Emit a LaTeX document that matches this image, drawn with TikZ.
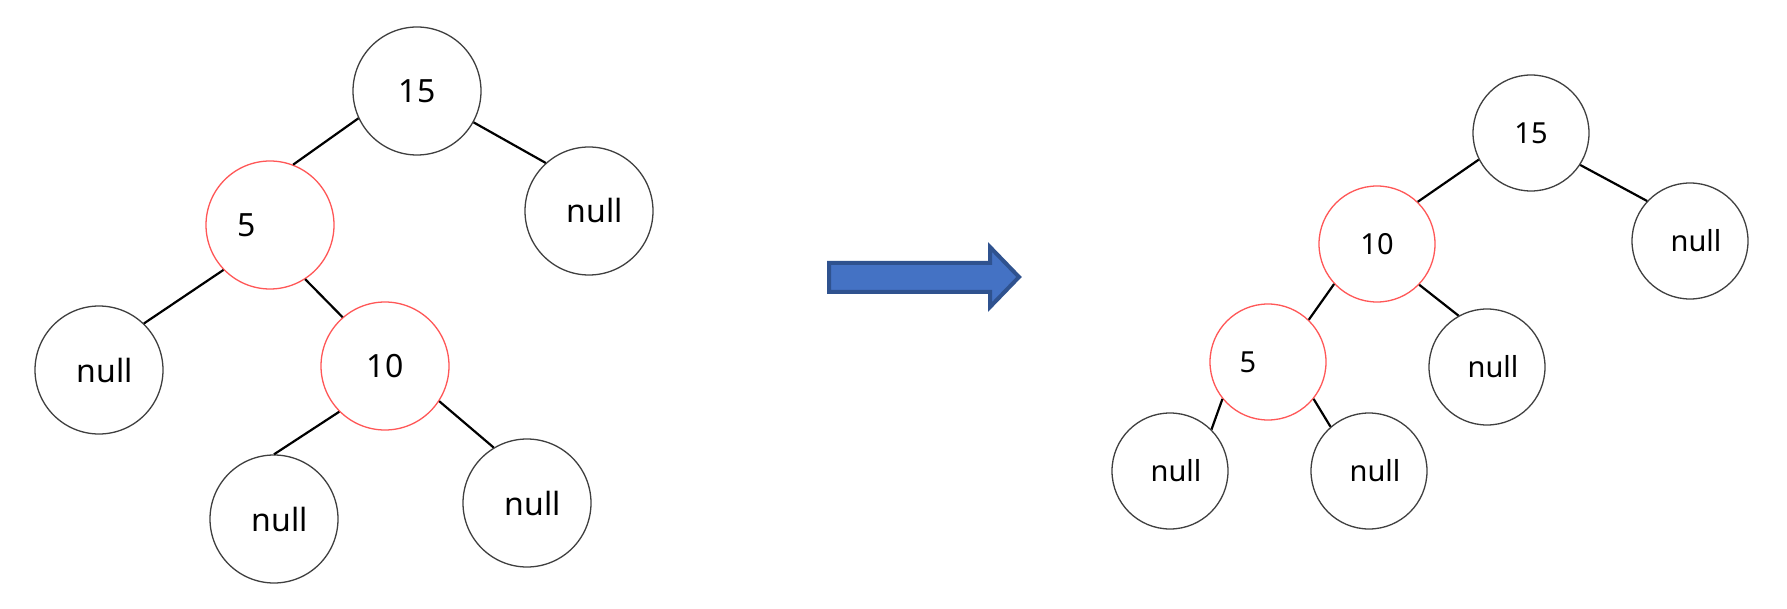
\documentclass[tikz,border=0pt]{standalone}
\usepackage{fontspec}
\setmainfont{Noto Sans}
\usetikzlibrary{arrows.meta}
\definecolor{ring}{HTML}{3F3F3F}
\definecolor{hotring}{HTML}{FF5757}
\definecolor{arrowfill}{HTML}{4472C4}
\definecolor{arrowedge}{HTML}{2F528F}

\begin{document}
\begin{tikzpicture}[x=1pt,y=-1pt,
  treenode/.style={circle,draw=ring,line width=1.3pt,inner sep=0pt,minimum size=#1},
  hot/.style={draw=hotring},
  nil/.style={label={[xshift=6pt]center:null}},
  edge/.style={line width=2.2pt}]
\fill[white] (0,0) rectangle (1787,609);
\useasboundingbox (0,0) rectangle (1787,609);

% before
\begin{scope}[font=\fontsize{32}{38}\selectfont,every node/.append style={treenode=128pt}]
\node (a15) at (417,91) {15};
\node[hot,label={[xshift=-23pt]center:5}] (a5) at (270,225) {};
\node[nil] (anr) at (589,211) {};
\node[nil] (anl) at (99,370) {};
\node[hot] (a10) at (385,366) {10};
\node[nil] (ana) at (274,519) {};
\node[nil] (anb) at (527,503) {};
\end{scope}
\draw[edge] (a15.205)--(a5.69); \draw[edge] (a15.331)--(anr.132);
\draw[edge] (a5.224)--(anl.46); \draw[edge] (a5.303)--(a10.131);
\draw[edge] (a10.225)--(ana.90); \draw[edge] (a10.327)--(anb.121);

\fill[arrowfill,draw=arrowedge,line width=4pt,miter limit=10]
  (829,263) -- (990,263) -- (990,247) -- (1019,277) -- (990,307) -- (990,292) -- (829,292) -- cycle;

% after
\begin{scope}[font=\fontsize{29}{35}\selectfont,every node/.append style={treenode=116pt}]
\node (b15) at (1531,133) {15};
\node[hot] (b10) at (1377,244) {10};
\node[nil] (bnr) at (1690,241) {};
\node[hot,label={[xshift=-20pt]center:5}] (b5) at (1268,362) {};
\node[nil] (bnm) at (1487,367) {};
\node[nil] (bnl) at (1170,471) {};
\node[nil] (bnk) at (1369,471) {};
\end{scope}
\draw[edge] (b15.207)--(b10.46); \draw[edge] (b15.327)--(bnr.137);
\draw[edge] (b10.223)--(b5.46); \draw[edge] (b10.316)--(bnm.119);
\draw[edge] (b5.219)--(bnl.45); \draw[edge] (b5.321)--(bnk.131);
\end{tikzpicture}
\end{document}
